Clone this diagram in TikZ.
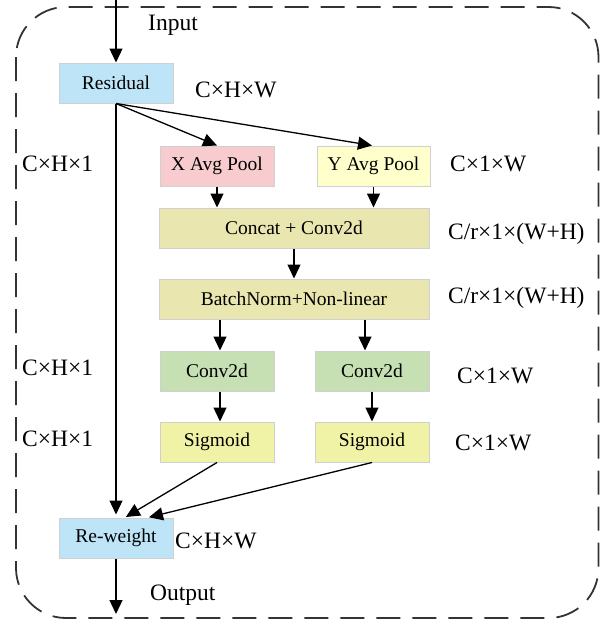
\documentclass[tikz,border=0pt]{standalone}
\usepackage{fontspec}
\setmainfont{Liberation Serif}
\usetikzlibrary{arrows.meta}
\definecolor{bblue}{RGB}{189,228,247}
\definecolor{bpink}{RGB}{248,203,206}
\definecolor{byel}{RGB}{255,255,204}
\definecolor{bkhaki}{RGB}{234,230,176}
\definecolor{bgreen}{RGB}{198,224,180}
\definecolor{bsig}{RGB}{240,242,165}
\definecolor{bedge}{RGB}{208,208,208}
\tikzset{
  box/.style={draw=bedge, line width=1pt, minimum width=114pt, minimum height=40pt, inner sep=0pt, font=\fontsize{19.5}{22}\selectfont},
  lbl/.style={anchor=west, inner sep=0pt, font=\fontsize{23.5}{26}\selectfont},
  arr/.style={line width=1.3pt, -{Triangle[length=14pt,width=13pt]}},
  frame/.style={draw=black!80, line width=1.8pt, dash pattern=on 24pt off 12pt, rounded corners=50pt}
}
\begin{document}
\begin{tikzpicture}[x=1pt,y=-1pt]
\useasboundingbox (0,0) rectangle (600,621);
\draw[frame] (16,7) rectangle (598.5,618);

\node[box, fill=bblue] (res) at (116,83) {Residual};
\node[box, fill=bpink] (xp) at (217,166) {X Avg Pool};
\node[box, fill=byel, minimum width=113pt] (yp) at (373.5,166) {Y Avg Pool};
\node[box, fill=bkhaki, minimum width=270pt] (cat) at (294,228) {Concat + Conv2d};
\node[box, fill=bkhaki, minimum width=270pt] (bn) at (294,299) {BatchNorm+Non-linear};
\node[box, fill=bgreen] (cl) at (217,371) {Conv2d};
\node[box, fill=bgreen] (cr) at (372,371) {Conv2d};
\node[box, fill=bsig] (sl) at (217,442) {Sigmoid};
\node[box, fill=bsig] (sr) at (372,442) {Sigmoid};
\node[box, fill=bblue] (rw) at (116,538) {Re-weight};

\coordinate (in) at (116,0);
\coordinate (out) at (116,614);

\node[lbl] (linput) at (148,25) {Input};
\node[lbl] (l1) at (195,90) {C×H×W};
\node[lbl] (l2) at (22,164) {C×H×1};
\node[lbl] (l3) at (450,164) {C×1×W};
\node[lbl] (l4) at (448,234) {C/r×1×(W+H)};
\node[lbl] (l5) at (448,298) {C/r×1×(W+H)};
\node[lbl] (l6) at (22,368) {C×H×1};
\node[lbl] (l7) at (457,376) {C×1×W};
\node[lbl] (l8) at (22,439) {C×H×1};
\node[lbl] (l9) at (455,443) {C×1×W};
\node[lbl] (l10) at (175,541) {C×H×W};
\node[lbl] (loutput) at (150,595) {Output};

\draw[arr] (in) -- (res.north);
\draw[arr] (res.south) -- (xp.north);
\draw[arr] (res.south) -- ([xshift=-1.5pt]yp.north);
\draw[arr] (xp.south) -- (xp.south |- cat.north);
\draw[arr] (yp.south) -- (yp.south |- cat.north);
\draw[arr] (cat.south) -- (cat.south |- bn.north);
\draw[arr] ([xshift=3pt]cl.north |- bn.south) -- ([xshift=3pt]cl.north);
\draw[arr] ([xshift=-7pt]cr.north |- bn.south) -- ([xshift=-7pt]cr.north);
\draw[arr] ([xshift=3pt]cl.south) -- ([xshift=3pt]sl.north);
\draw[arr] (cr.south) -- (sr.north);
\draw[arr, shorten >=3pt] (res.south) -- (rw.north);
\draw[arr, shorten >=1pt] (sl.south) -- ([xshift=9pt]rw.north);
\draw[arr, shorten >=1pt] (sr.south) -- ([xshift=32pt]rw.north);
\draw[arr] (rw.south) -- (out);
\end{tikzpicture}
\end{document}
